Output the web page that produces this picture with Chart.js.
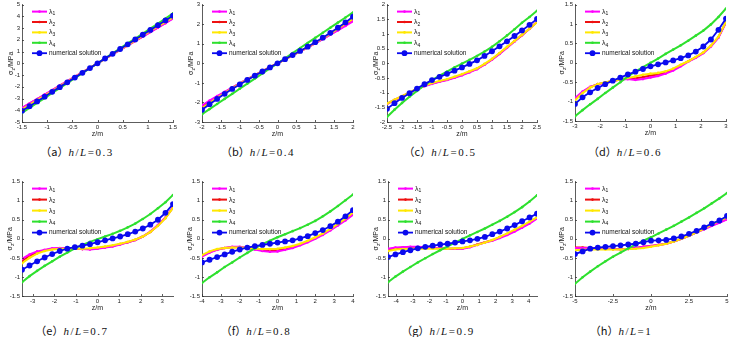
<!DOCTYPE html>
<html>
<head>
<meta charset="utf-8">
<script src="https://cdn.jsdelivr.net/npm/chart.js@4.4.1/dist/chart.umd.min.js"></script>
<style>
  html, body { margin: 0; padding: 0; background: #fff; }
  body { width: 733px; height: 337px; position: relative; overflow: hidden; }
  canvas { position: absolute; }
  .cap { position: absolute; font-family: "Liberation Serif", "Times New Roman", serif; font-size: 11px;
         letter-spacing: 1.5px; color: #111; white-space: nowrap; transform: translateX(-50%); line-height: 13px; }
  .cap .p { font-family: "Noto Sans CJK SC", sans-serif; letter-spacing: 0; }
</style>
</head>
<body>
<script>
// z positions (m) for each case
const zA = [-1.5,-1.35,-1.2,-1.05,-0.9,-0.75,-0.6,-0.45,-0.3,-0.15,0,0.15,0.3,0.45,0.6,0.75,0.9,1.05,1.2,1.35,1.5];
const zB = [-2,-1.8,-1.6,-1.4,-1.2,-1,-0.8,-0.6,-0.4,-0.2,0,0.2,0.4,0.6,0.8,1,1.2,1.4,1.6,1.8,2];
const zC = [-2.5,-2.25,-2,-1.75,-1.5,-1.25,-1,-0.75,-0.5,-0.25,0,0.25,0.5,0.75,1,1.25,1.5,1.75,2,2.25,2.5];
const zD = [-3,-2.7,-2.4,-2.1,-1.8,-1.5,-1.2,-0.9,-0.6,-0.3,0,0.3,0.6,0.9,1.2,1.5,1.8,2.1,2.4,2.7,3];
const zE = [-3.5,-3.15,-2.8,-2.45,-2.1,-1.75,-1.4,-1.05,-0.7,-0.35,0,0.35,0.7,1.05,1.4,1.75,2.1,2.45,2.8,3.15,3.5];
const zF = [-4,-3.6,-3.2,-2.8,-2.4,-2,-1.6,-1.2,-0.8,-0.4,0,0.4,0.8,1.2,1.6,2,2.4,2.8,3.2,3.6,4];
const zG = [-4.5,-4.05,-3.6,-3.15,-2.7,-2.25,-1.8,-1.35,-0.9,-0.45,0,0.45,0.9,1.35,1.8,2.25,2.7,3.15,3.6,4.05,4.5];
const zH = [-5,-4.5,-4,-3.5,-3,-2.5,-2,-1.5,-1,-0.5,0,0.5,1,1.5,2,2.5,3,3.5,4,4.5,5];

// (a) h/L = 0.3
const l1A = [-3.8,-3.42,-3.04,-2.66,-2.28,-1.9,-1.52,-1.14,-0.76,-0.38,0,0.38,0.76,1.14,1.52,1.9,2.28,2.66,3.04,3.42,3.82];
const l2A = [-3.82,-3.44,-3.06,-2.68,-2.3,-1.91,-1.53,-1.15,-0.77,-0.38,0,0.38,0.77,1.15,1.53,1.91,2.3,2.68,3.06,3.44,3.85];
const l3A = [-3.92,-3.53,-3.14,-2.75,-2.36,-1.96,-1.57,-1.18,-0.79,-0.39,0,0.39,0.79,1.18,1.57,1.96,2.36,2.75,3.14,3.53,3.92];
const l4A = [-4.22,-3.8,-3.38,-2.96,-2.53,-2.11,-1.69,-1.27,-0.84,-0.42,0,0.42,0.84,1.27,1.69,2.11,2.53,2.96,3.38,3.8,4.25];
const numA = [-4.05,-3.65,-3.25,-2.84,-2.43,-2.03,-1.62,-1.22,-0.81,-0.41,0,0.41,0.81,1.22,1.62,2.03,2.43,2.84,3.25,3.65,4.05];

// (b) h/L = 0.4
const l1B = [-2.15,-1.91,-1.68,-1.46,-1.24,-1.02,-0.81,-0.6,-0.4,-0.2,0,0.2,0.4,0.6,0.81,1.02,1.24,1.46,1.68,1.91,2.15];
const l2B = [-2.2,-1.95,-1.71,-1.48,-1.25,-1.03,-0.82,-0.61,-0.4,-0.2,0,0.2,0.4,0.61,0.82,1.03,1.25,1.48,1.71,1.95,2.2];
const l3B = [-2.3,-2.03,-1.77,-1.52,-1.28,-1.05,-0.83,-0.62,-0.41,-0.2,0,0.2,0.41,0.62,0.83,1.05,1.28,1.52,1.77,2.03,2.28];
const l4B = [-2.6,-2.34,-2.08,-1.82,-1.56,-1.3,-1.04,-0.78,-0.52,-0.26,0,0.26,0.52,0.78,1.04,1.3,1.56,1.82,2.08,2.34,2.6];
const numB = [-2.38,-2.09,-1.82,-1.56,-1.31,-1.08,-0.85,-0.63,-0.42,-0.21,0,0.21,0.42,0.63,0.85,1.08,1.31,1.56,1.82,2.09,2.38];

// (c) h/L = 0.5
const l1C = [-1.38,-1.25,-1.13,-1.0,-0.88,-0.78,-0.7,-0.63,-0.57,-0.49,-0.41,-0.31,-0.2,-0.05,0.12,0.32,0.53,0.74,0.96,1.18,1.42];
const l2C = [-1.38,-1.25,-1.13,-1.0,-0.87,-0.77,-0.69,-0.62,-0.56,-0.48,-0.39,-0.29,-0.19,-0.04,0.13,0.33,0.54,0.75,0.96,1.18,1.41];
const l3C = [-1.37,-1.24,-1.12,-0.99,-0.86,-0.76,-0.67,-0.6,-0.54,-0.46,-0.37,-0.27,-0.17,-0.02,0.15,0.35,0.56,0.76,0.97,1.18,1.4];
const l4C = [-1.83,-1.58,-1.35,-1.14,-0.94,-0.75,-0.57,-0.42,-0.28,-0.14,-0.01,0.12,0.25,0.4,0.56,0.75,0.95,1.16,1.38,1.58,1.79];
const numC = [-1.55,-1.36,-1.18,-1.02,-0.86,-0.71,-0.57,-0.46,-0.36,-0.25,-0.14,-0.02,0.1,0.25,0.41,0.58,0.75,0.93,1.12,1.31,1.51];

// (d) h/L = 0.6
const l1D = [-0.91,-0.74,-0.62,-0.56,-0.52,-0.47,-0.43,-0.42,-0.44,-0.42,-0.38,-0.34,-0.28,-0.2,-0.09,0.03,0.13,0.25,0.42,0.65,1.04];
const l2D = [-0.95,-0.76,-0.63,-0.55,-0.51,-0.47,-0.43,-0.41,-0.4,-0.37,-0.33,-0.3,-0.25,-0.17,-0.07,0.04,0.14,0.26,0.43,0.66,1.05];
const l3D = [-0.97,-0.78,-0.64,-0.55,-0.5,-0.47,-0.43,-0.39,-0.35,-0.31,-0.28,-0.26,-0.22,-0.15,-0.05,0.04,0.15,0.27,0.44,0.67,1.06];
const l4D = [-1.38,-1.22,-1.07,-0.93,-0.78,-0.64,-0.5,-0.35,-0.23,-0.11,0,0.11,0.23,0.34,0.45,0.57,0.7,0.83,0.99,1.18,1.4];
const numD = [-1.06,-0.89,-0.76,-0.65,-0.55,-0.46,-0.38,-0.3,-0.23,-0.16,-0.09,-0.04,0.01,0.06,0.12,0.19,0.29,0.42,0.6,0.85,1.14];

// (e) h/L = 0.7
const l1E = [-0.53,-0.41,-0.33,-0.29,-0.25,-0.24,-0.24,-0.26,-0.27,-0.28,-0.26,-0.23,-0.2,-0.15,-0.09,-0.03,0.06,0.19,0.36,0.56,0.83];
const l2E = [-0.58,-0.45,-0.36,-0.3,-0.27,-0.25,-0.25,-0.26,-0.27,-0.27,-0.25,-0.22,-0.19,-0.14,-0.09,-0.03,0.06,0.18,0.35,0.55,0.82];
const l3E = [-0.64,-0.5,-0.39,-0.32,-0.28,-0.26,-0.26,-0.26,-0.26,-0.25,-0.23,-0.2,-0.17,-0.13,-0.08,-0.02,0.06,0.18,0.34,0.54,0.81];
const l4E = [-1.14,-0.98,-0.84,-0.71,-0.59,-0.47,-0.36,-0.25,-0.16,-0.08,-0.01,0.06,0.13,0.21,0.3,0.4,0.52,0.65,0.8,0.96,1.15];
const numE = [-0.81,-0.7,-0.59,-0.49,-0.4,-0.32,-0.26,-0.22,-0.18,-0.14,-0.09,-0.04,0.01,0.06,0.12,0.19,0.27,0.37,0.5,0.68,0.91];

// (f) h/L = 0.8
const l1F = [-0.47,-0.36,-0.29,-0.24,-0.21,-0.21,-0.24,-0.28,-0.32,-0.34,-0.33,-0.29,-0.24,-0.17,-0.09,0,0.1,0.22,0.35,0.48,0.63];
const l2F = [-0.45,-0.35,-0.28,-0.24,-0.22,-0.22,-0.24,-0.27,-0.3,-0.31,-0.3,-0.27,-0.22,-0.15,-0.07,0.02,0.12,0.24,0.37,0.51,0.66];
const l3F = [-0.43,-0.33,-0.27,-0.24,-0.23,-0.23,-0.24,-0.26,-0.27,-0.27,-0.26,-0.23,-0.19,-0.13,-0.05,0.04,0.14,0.26,0.39,0.53,0.69];
const l4F = [-1.16,-1.01,-0.88,-0.74,-0.62,-0.49,-0.37,-0.25,-0.14,-0.05,0.04,0.12,0.2,0.28,0.37,0.47,0.59,0.72,0.86,1.01,1.16];
const numF = [-0.62,-0.55,-0.48,-0.41,-0.34,-0.28,-0.23,-0.19,-0.16,-0.13,-0.1,-0.07,-0.04,0.01,0.07,0.15,0.23,0.33,0.45,0.59,0.75];

// (g) h/L = 0.9
const l1G = [-0.26,-0.23,-0.22,-0.21,-0.21,-0.22,-0.23,-0.25,-0.26,-0.26,-0.26,-0.22,-0.16,-0.1,-0.05,0.02,0.1,0.19,0.29,0.4,0.53];
const l2G = [-0.28,-0.25,-0.23,-0.22,-0.22,-0.23,-0.24,-0.25,-0.26,-0.26,-0.25,-0.21,-0.15,-0.09,-0.04,0.04,0.12,0.21,0.31,0.42,0.55];
const l3G = [-0.32,-0.28,-0.27,-0.26,-0.26,-0.26,-0.26,-0.26,-0.26,-0.25,-0.24,-0.2,-0.16,-0.1,-0.03,0.05,0.14,0.24,0.34,0.45,0.56];
const l4G = [-1.14,-0.99,-0.86,-0.74,-0.62,-0.51,-0.4,-0.3,-0.2,-0.1,0,0.09,0.18,0.27,0.37,0.47,0.58,0.7,0.83,0.98,1.14];
const numG = [-0.48,-0.41,-0.35,-0.3,-0.25,-0.21,-0.18,-0.15,-0.13,-0.1,-0.07,-0.04,0,0.05,0.12,0.19,0.27,0.36,0.46,0.56,0.66];

// (h) h/L = 1
const l1H = [-0.24,-0.24,-0.24,-0.25,-0.26,-0.27,-0.28,-0.27,-0.24,-0.21,-0.19,-0.16,-0.13,-0.07,0,0.08,0.17,0.25,0.34,0.42,0.51];
const l2H = [-0.23,-0.23,-0.24,-0.25,-0.26,-0.27,-0.27,-0.26,-0.24,-0.21,-0.19,-0.16,-0.13,-0.07,0,0.08,0.17,0.26,0.35,0.43,0.52];
const l3H = [-0.3,-0.29,-0.28,-0.28,-0.28,-0.28,-0.28,-0.27,-0.26,-0.24,-0.21,-0.17,-0.13,-0.07,0,0.08,0.17,0.27,0.38,0.47,0.56];
const l4H = [-1.18,-1.01,-0.86,-0.72,-0.59,-0.47,-0.36,-0.25,-0.15,-0.05,0.04,0.14,0.24,0.34,0.45,0.56,0.68,0.8,0.93,1.06,1.2];
const numH = [-0.4,-0.33,-0.26,-0.23,-0.21,-0.19,-0.17,-0.15,-0.13,-0.09,-0.05,-0.04,-0.03,0.01,0.06,0.13,0.21,0.3,0.4,0.48,0.6];

// tick labels
const xTicksA = [-1.5,-1,-0.5,0,0.5,1,1.5];
const xTicksB = [-2,-1.5,-1,-0.5,0,0.5,1,1.5,2];
const xTicksC = [-2.5,-2,-1.5,-1,-0.5,0,0.5,1,1.5,2,2.5];
const xTicksD = [-3,-2,-1,0,1,2,3];
const xTicksE = [-3,-2,-1,0,1,2,3];
const xTicksF = [-4,-3,-2,-1,0,1,2,3,4];
const xTicksG = [-4,-3,-2,-1,0,1,2,3,4];
const xTicksH = [-5,-2.5,0,2.5,5];
const yTicksA = [-5,-4,-3,-2,-1,0,1,2,3,4,5];
const yTicksB = [-3,-2,-1,0,1,2,3];
const yTicksC = [-2,-1.5,-1,-0.5,0,0.5,1,1.5,2];
const yTicksD = [-1.5,-1,-0.5,0,0.5,1,1.5];

const seriesLabels = ['λ1', 'λ2', 'λ3', 'λ4', 'numerical solution'];
const ratios = ['0.3', '0.4', '0.5', '0.6', '0.7', '0.8', '0.9', '1'];
const letters = ['a', 'b', 'c', 'd', 'e', 'f', 'g', 'h'];

const COLORS = ['#ff00ff', '#ee1111', '#ffe800', '#2ee02e', '#0a0aee'];
const FONT = '"Liberation Sans", Arial, sans-serif';
const Y_AXIS_W = 22, X_AXIS_H = 16, PAD_R = 7;

// plot-area boxes for the 8 panels
const panels = [
  { z: zA, s: [l1A, l2A, l3A, l4A, numA], xt: xTicksA, yt: yTicksA, x: 22,  y: 3,   w: 151, h: 119, off: 11, gap: 10.4, cx: 77 },
  { z: zB, s: [l1B, l2B, l3B, l4B, numB], xt: xTicksB, yt: yTicksB, x: 202, y: 3,   w: 151, h: 119, off: 11, gap: 10.4, cx: 258 },
  { z: zC, s: [l1C, l2C, l3C, l4C, numC], xt: xTicksC, yt: yTicksC, x: 387, y: 3,   w: 150, h: 119, off: 11, gap: 10.4, cx: 440 },
  { z: zD, s: [l1D, l2D, l3D, l4D, numD], xt: xTicksD, yt: yTicksD, x: 575, y: 3,   w: 151, h: 118, off: 13, gap: 10.4, cx: 625 },
  { z: zE, s: [l1E, l2E, l3E, l4E, numE], xt: xTicksE, yt: yTicksD, x: 22,  y: 180, w: 151, h: 116, off: 12, gap: 11,   cx: 72 },
  { z: zF, s: [l1F, l2F, l3F, l4F, numF], xt: xTicksF, yt: yTicksD, x: 202, y: 180, w: 151, h: 116, off: 12, gap: 11,   cx: 256 },
  { z: zG, s: [l1G, l2G, l3G, l4G, numG], xt: xTicksG, yt: yTicksD, x: 388, y: 180, w: 149, h: 116, off: 12, gap: 11,   cx: 438 },
  { z: zH, s: [l1H, l2H, l3H, l4H, numH], xt: xTicksH, yt: yTicksD, x: 575, y: 180, w: 152, h: 116, off: 13, gap: 11,   cx: 621 }
];

// legend drawn inside the plot, MATLAB style (line + marker)
const matlabLegend = {
  id: 'matlabLegend',
  afterDatasetsDraw(chart, args, opts) {
    const { ctx, chartArea } = chart;
    const x0 = chartArea.left + 10;
    let y = chartArea.top + 7;
    ctx.save();
    chart.data.datasets.forEach(ds => {
      ctx.strokeStyle = ds.borderColor;
      ctx.lineWidth = ds.borderWidth;
      ctx.beginPath(); ctx.moveTo(x0, y); ctx.lineTo(x0 + 15, y); ctx.stroke();
      ctx.fillStyle = ds.borderColor;
      ctx.beginPath(); ctx.arc(x0 + 7.5, y, ds.pointRadius, 0, Math.PI * 2); ctx.fill();
      ctx.fillStyle = '#111';
      ctx.textBaseline = 'middle';
      ctx.textAlign = 'left';
      if (ds.label.startsWith('λ')) {
        ctx.font = '7px ' + FONT;
        ctx.fillText('λ', x0 + 17, y);
        const w = ctx.measureText('λ').width;
        ctx.font = '5px ' + FONT;
        ctx.fillText(ds.label.slice(1), x0 + 17 + w, y + 2.5);
      } else {
        ctx.font = '6.5px ' + FONT;
        ctx.fillText(ds.label, x0 + 17, y);
      }
      y += opts.gap;
    });
    ctx.restore();
  }
};

// inward ticks + y title with subscript
const axisExtras = {
  id: 'axisExtras',
  afterDraw(chart, args, opts) {
    const { ctx, chartArea: a, scales: { x, y } } = chart;
    ctx.save();
    ctx.strokeStyle = '#333';
    ctx.lineWidth = 0.8;
    ctx.beginPath();
    x.ticks.forEach(t => {
      const px = Math.round(x.getPixelForValue(t.value)) + 0.5;
      ctx.moveTo(px, a.bottom); ctx.lineTo(px, a.bottom - 2);
    });
    y.ticks.forEach(t => {
      const py = Math.round(y.getPixelForValue(t.value)) + 0.5;
      ctx.moveTo(a.left, py); ctx.lineTo(a.left + 2, py);
    });
    ctx.stroke();

    ctx.translate(a.left - opts.off, (a.top + a.bottom) / 2);
    ctx.rotate(-Math.PI / 2);
    ctx.fillStyle = '#222';
    ctx.textBaseline = 'middle';
    ctx.textAlign = 'left';
    ctx.font = '7px ' + FONT;
    const w1 = ctx.measureText('σ').width, w3 = ctx.measureText('/MPa').width;
    ctx.font = '5px ' + FONT;
    const w2 = ctx.measureText('z').width;
    let tx = -(w1 + w2 + w3) / 2;
    ctx.font = '7px ' + FONT;
    ctx.fillText('σ', tx, 0);
    ctx.font = '5px ' + FONT;
    ctx.fillText('z', tx + w1, 2.2);
    ctx.font = '7px ' + FONT;
    ctx.fillText('/MPa', tx + w1 + w2, 0);
    ctx.restore();
  }
};

const drawOrder = [3, 4, 2, 1, 0];

panels.forEach((p, k) => {
  const padTop = 4;
  const cv = document.createElement('canvas');
  cv.width = Y_AXIS_W + p.w + PAD_R;
  cv.height = padTop + p.h + X_AXIS_H;
  cv.style.left = (p.x - Y_AXIS_W) + 'px';
  cv.style.top = (p.y - padTop) + 'px';
  document.body.appendChild(cv);

  const datasets = p.s.map((vals, i) => ({
    label: seriesLabels[i],
    data: p.z.map((zv, j) => ({ x: zv, y: vals[j] })),
    borderColor: COLORS[i],
    backgroundColor: COLORS[i],
    pointBackgroundColor: COLORS[i],
    pointBorderWidth: 0,
    borderWidth: i === 4 ? 1.8 : 2,
    pointRadius: i === 4 ? 2.9 : 1.3,
    tension: 0,
    order: drawOrder[i]
  }));

  const tickFont = { family: FONT, size: 6 };
  new Chart(cv, {
    type: 'line',
    data: { datasets },
    plugins: [matlabLegend, axisExtras],
    options: {
      responsive: false,
      animation: false,
      events: [],
      layout: { padding: { top: padTop, right: PAD_R, left: 0, bottom: 0 } },
      plugins: {
        legend: { display: false },
        tooltip: { enabled: false },
        matlabLegend: { gap: p.gap },
        axisExtras: { off: p.off }
      },
      scales: {
        x: {
          type: 'linear',
          min: p.z[0], max: p.z[p.z.length - 1],
          afterBuildTicks: s => { s.ticks = p.xt.map(v => ({ value: v })); },
          afterFit: s => { s.height = X_AXIS_H; },
          grid: { display: true, drawOnChartArea: false, drawTicks: false },
          border: { display: true, color: '#333', width: 0.8 },
          ticks: { font: tickFont, color: '#222', padding: 2, autoSkip: false, maxRotation: 0,
                   callback: v => String(v) },
          title: { display: true, text: 'z/m', font: { family: FONT, size: 7 }, color: '#222',
                   padding: { top: 0, bottom: 0 } }
        },
        y: {
          min: p.yt[0], max: p.yt[p.yt.length - 1],
          afterBuildTicks: s => { s.ticks = p.yt.map(v => ({ value: v })); },
          afterFit: s => { s.width = Y_AXIS_W; },
          grid: { display: true, drawOnChartArea: false, drawTicks: false },
          border: { display: true, color: '#333', width: 0.8 },
          ticks: { font: tickFont, color: '#222', padding: 2, autoSkip: false,
                   callback: v => String(v) }
        }
      }
    }
  });

  const cap = document.createElement('div');
  cap.className = 'cap';
  cap.style.left = p.cx + 'px';
  cap.style.top = (k < 4 ? 145 : 324) + 'px';
  cap.innerHTML = '<span class="p">（' + letters[k] + '）</span><i>h</i>/<i>L</i>=' + ratios[k];
  document.body.appendChild(cap);
});
</script>
</body>
</html>
